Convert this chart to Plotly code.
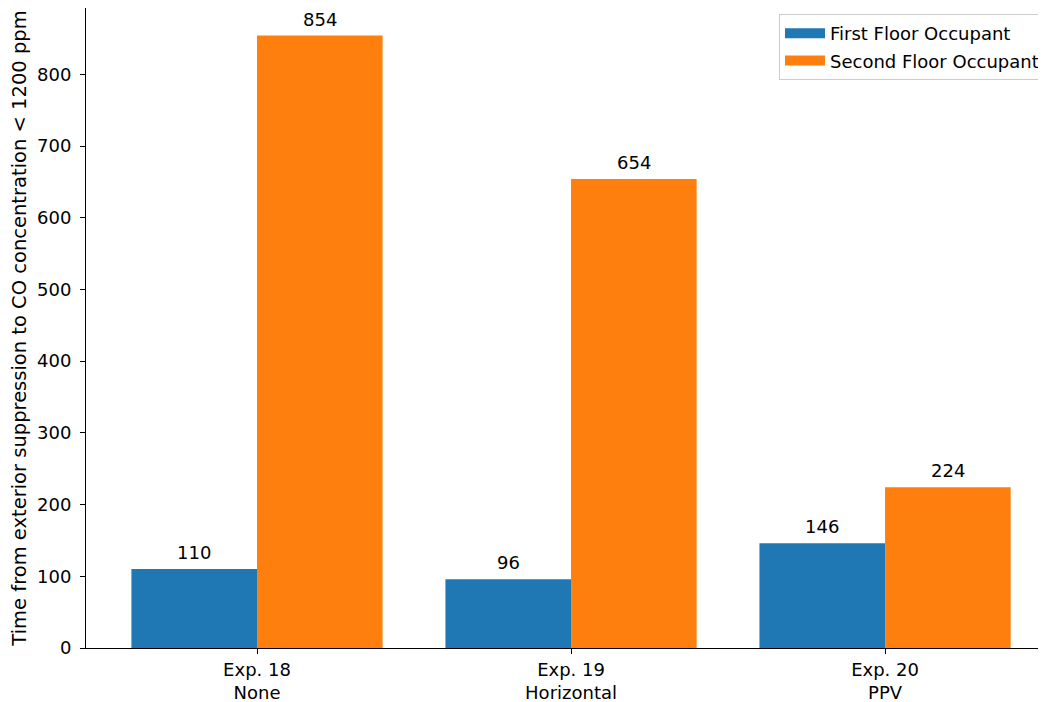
import plotly.graph_objects as go

categories = ["Exp. 18<br>None", "Exp. 19<br>Horizontal", "Exp. 20<br>PPV"]
first_floor = [110, 96, 146]
second_floor = [854, 654, 224]
series_names = ["First Floor Occupant", "Second Floor Occupant"]
colors = ["#1f77b4", "#ff7f0e"]
y_ticks = [0, 100, 200, 300, 400, 500, 600, 700, 800]

xpos = list(range(len(categories)))
font = dict(family="DejaVu Sans", size=18, color="black")

fig = go.Figure()
for vals, name, col in [(first_floor, series_names[0], colors[0]), (second_floor, series_names[1], colors[1])]:
    fig.add_trace(go.Bar(x=xpos, y=vals, name=name, marker=dict(color=col, line=dict(width=0)),
                         showlegend=False))
# legend entries drawn as wide swatches
for i, (name, col) in enumerate(zip(series_names, colors)):
    fig.add_trace(go.Scatter(x=[None], y=[None], mode="lines", name=name,
                             line=dict(color=col, width=14), legendgroup=str(i), showlegend=True))

# value labels above bars
offsets = [-0.2, 0.2]
for vals, off in zip([first_floor, second_floor], offsets):
    for i, v in enumerate(vals):
        fig.add_annotation(x=i + off, y=v, text=str(v), showarrow=False, yanchor="bottom",
                           xanchor="center", yshift=4, font=font)

fig.update_layout(
    width=1046, height=702,
    margin=dict(l=78, r=0, t=0, b=62, autoexpand=False),
    paper_bgcolor="white", plot_bgcolor="white",
    barmode="group", bargap=0.2, bargroupgap=0,
    font=font,
    showlegend=True,
    legend=dict(x=0.9907, y=0.9906, xanchor="right", yanchor="top",
                bordercolor="#cccccc", borderwidth=1, bgcolor="rgba(255,255,255,0.8)",
                font=font, tracegroupgap=1, itemwidth=40),
)
fig.update_xaxes(range=[-0.5446, 2.538], tickmode="array", tickvals=xpos, ticktext=categories,
                 showgrid=False, zeroline=False, showline=True, linecolor="black", linewidth=1,
                 mirror=True, ticks="outside", ticklen=5, tickcolor="black", tickfont=font)
fig.update_yaxes(range=[0, 892.5], tickmode="array", tickvals=y_ticks,
                 showgrid=False, zeroline=False, showline=True, linecolor="black", linewidth=1,
                 mirror=True, ticks="outside", ticklen=5, tickcolor="black", tickfont=font,
                 ticklabelstandoff=5,
                 title=dict(text="Time from exterior suppression to CO concentration < 1200 ppm",
                            font=dict(family="DejaVu Sans", size=19.5, color="black"), standoff=8))

fig.write_html("out.html")
